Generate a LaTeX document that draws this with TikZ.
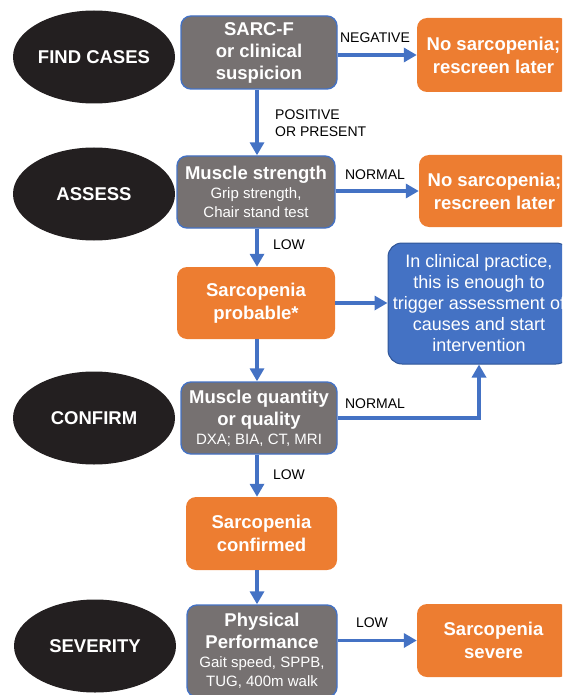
\documentclass[tikz,border=0pt]{standalone}
\usepackage{fontspec}
\setmainfont{Liberation Sans}
\usetikzlibrary{shapes.geometric,arrows.meta}
\definecolor{stagefill}{HTML}{231F20}
\definecolor{testgray}{HTML}{767171}
\definecolor{flowblue}{HTML}{4472C4}
\definecolor{resultorange}{HTML}{ED7D31}
\definecolor{noteedge}{HTML}{2F5597}
\newcommand{\subline}{\fontsize{15}{19}\selectfont\mdseries}

\begin{document}
\begin{tikzpicture}[x=1pt,y=-1pt,
    stage/.style={ellipse,fill=stagefill,text=white,inner sep=0pt,
        minimum width=162pt,minimum height=93pt,
        font=\fontsize{18.5}{22}\selectfont\bfseries},
    test/.style={draw=flowblue,line width=1.4pt,fill=testgray,rounded corners=10pt,
        text=white,align=center,inner sep=0pt,
        font=\fontsize{18.5}{22}\selectfont\bfseries},
    result/.style={fill=resultorange,rounded corners=10pt,text=white,align=center,
        inner sep=0pt,font=\fontsize{18.5}{23}\selectfont\bfseries},
    note/.style={draw=noteedge,line width=1pt,fill=flowblue,rounded corners=14pt,
        text=white,align=center,inner sep=0pt,font=\fontsize{18}{21}\selectfont},
    flow/.style={draw=flowblue,line width=3.4pt,-{Triangle[width=14pt,length=13pt]}},
    tag/.style={inner sep=0pt,font=\fontsize{14}{17}\selectfont},
]
    \useasboundingbox (0,0) rectangle (562,695);
    \clip (0,0) rectangle (562,695);

    % stages
    \node[stage] (find) at (94,57) {FIND CASES};
    \node[stage] (assess) at (94,194) {ASSESS};
    \node[stage] (confirm) at (94,418) {CONFIRM};
    \node[stage] (severity) at (95,646) {SEVERITY};

    % tests and results
    \coordinate (spine) at (257,0);
    \node[test,minimum width=156pt,minimum height=73pt] (sarcf) at (259,52.5)
        {SARC-F\\or clinical\\suspicion};
    \node[result,minimum width=153pt,minimum height=74pt] (nosarcA) at (493.5,55)
        {No sarcopenia;\\rescreen later};
    \node[test,minimum width=158pt,minimum height=72pt] (strength) at (256,192)
        {Muscle strength\\[-3pt]{\subline Grip strength,}\\[-3pt]{\subline Chair stand test}};
    \node[result,minimum width=151pt,minimum height=72pt] (nosarcB) at (494.5,191)
        {No sarcopenia;\\rescreen later};
    \node[result,minimum width=158pt,minimum height=72pt] (probable) at (256,303)
        {Sarcopenia\\probable*};
    \node[note,minimum width=182pt,minimum height=121pt] (clinic) at (479,303.5)
        {In clinical practice,\\this is enough to\\trigger assessment of\\causes and start\\intervention};
    \node[test,minimum width=156pt,minimum height=72pt] (quantity) at (259,418)
        {Muscle quantity\\or quality\\[-3pt]{\subline DXA; BIA, CT, MRI}};
    \node[result,minimum width=151pt,minimum height=73pt] (confirmed) at (261.5,533.5)
        {Sarcopenia\\confirmed};
    \node[test,minimum width=150pt,minimum height=92pt] (physical) at (262,651)
        {Physical\\Performance\\[-3pt]{\subline Gait speed, SPPB,}\\[-3pt]{\subline TUG, 400m walk}};
    \node[result,minimum width=153pt,minimum height=73pt] (severe) at (493.5,640.5)
        {Sarcopenia\\severe};

    % connectors
    \draw[flow] (sarcf.east |- nosarcA) -- (nosarcA.west);
    \draw[flow] (sarcf.south -| spine) -- (strength.north -| spine);
    \draw[flow] (strength.east |- nosarcB) -- (nosarcB.west);
    \draw[flow] (strength.south -| spine) -- (probable.north -| spine);
    \draw[flow] (probable.east) -- (clinic.west |- probable);
    \draw[flow] (probable.south -| spine) -- (quantity.north -| spine);
    \draw[flow] (quantity.east) -| (clinic.south);
    \draw[flow] (quantity.south -| spine) -- (confirmed.north -| spine);
    \draw[flow] (confirmed.south -| spine) -- (physical.north -| spine);
    \draw[flow] (physical.east |- severe) -- (severe.west);

    % labels
    \node[tag] (negative) at (375,38) {NEGATIVE};
    \node[tag,align=left,anchor=west] (positive) at (275,123.5) {POSITIVE\\OR PRESENT};
    \node[tag] (normalA) at (375,175) {NORMAL};
    \node[tag] (lowA) at (289,245) {LOW};
    \node[tag] (normalB) at (375,404) {NORMAL};
    \node[tag] (lowB) at (289,475) {LOW};
    \node[tag] (lowC) at (372,623) {LOW};
\end{tikzpicture}
\end{document}
